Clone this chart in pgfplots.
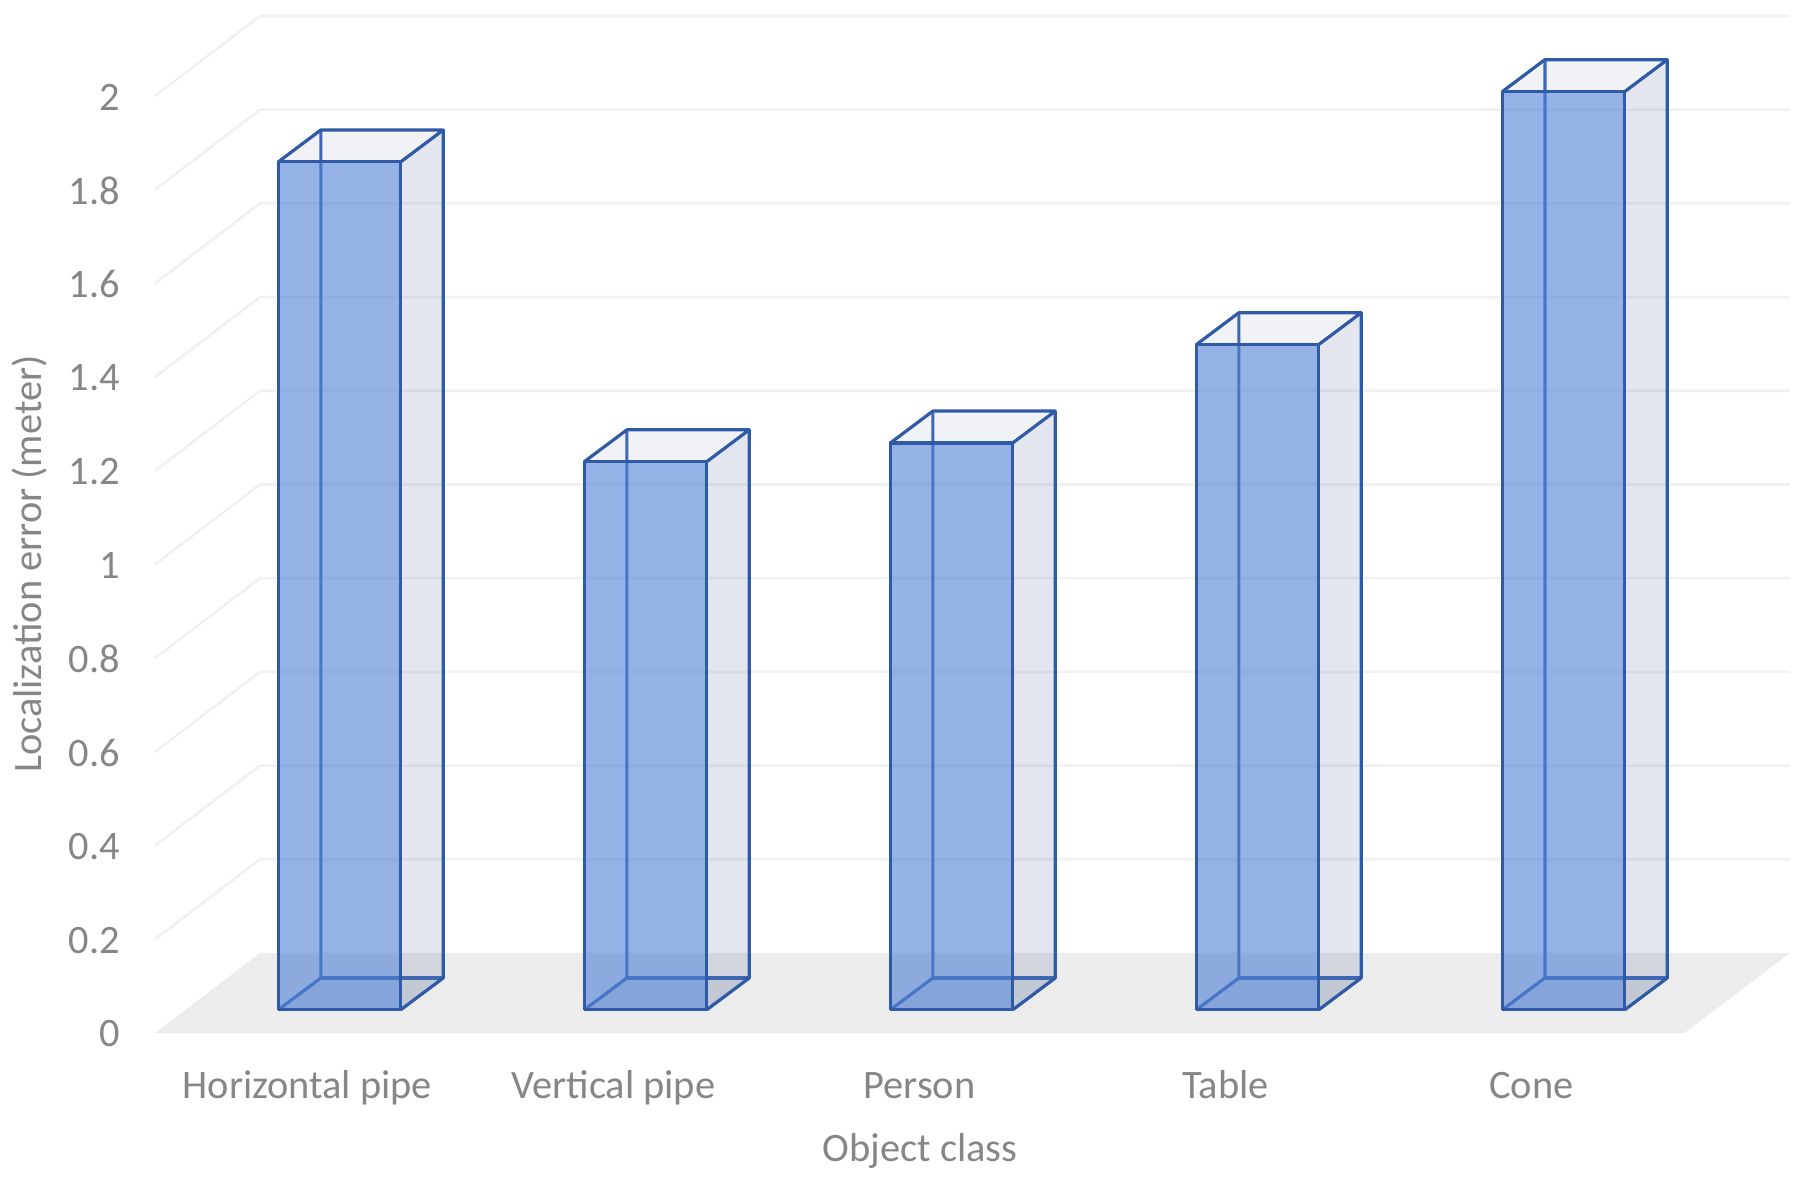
\documentclass[border=0pt]{standalone}
\usepackage{fontspec}
\setmainfont{Carlito}
\usepackage{pgfplots}
\pgfplotsset{compat=1.18}
\definecolor{txt}{HTML}{868686}
\definecolor{gridc}{HTML}{F1F1F1}
\definecolor{floorc}{HTML}{ECECEC}
\definecolor{edgef}{HTML}{2F5AA6}
\definecolor{edgeb}{HTML}{3E6AB8}
\definecolor{frontc}{HTML}{4D7FD5}
\definecolor{sidec}{HTML}{44588F}
% one bar: position (tick index)
\newcommand{\threedbar}[2]{%
  \pgfmathsetmacro{\xl}{#1-0.095}\pgfmathsetmacro{\xr}{#1+0.305}%
  \pgfmathsetmacro{\xL}{\xl+0.139}\pgfmathsetmacro{\xR}{\xr+0.139}%
  \pgfmathsetmacro{\yb}{0.0495}\pgfmathsetmacro{\yt}{0.0495+#2}%
  \pgfmathsetmacro{\yB}{\yb+0.068}\pgfmathsetmacro{\yT}{\yt+0.068}%
  % bottom and back
  \addplot[draw=none,fill=sidec,fill opacity=0.10,forget plot] coordinates {(\xl,\yb)(\xr,\yb)(\xR,\yB)(\xL,\yB)(\xl,\yb)};
  % back edges
  \addplot[edgeb,line width=1.6pt,forget plot] coordinates {(\xl,\yb)(\xL,\yB)(\xL,\yT)};
  \addplot[edgeb,line width=1.6pt,forget plot] coordinates {(\xL,\yB)(\xR,\yB)};
  % right side
  \addplot[draw=none,fill=sidec,fill opacity=0.15,forget plot] coordinates {(\xr,\yb)(\xR,\yB)(\xR,\yT)(\xr,\yt)(\xr,\yb)};
  % top
  \addplot[draw=none,fill=sidec,fill opacity=0.08,forget plot] coordinates {(\xl,\yt)(\xr,\yt)(\xR,\yT)(\xL,\yT)(\xl,\yt)};
  % front
  \addplot[draw=none,fill=frontc,fill opacity=0.6,forget plot] coordinates {(\xl,\yb)(\xr,\yb)(\xr,\yt)(\xl,\yt)(\xl,\yb)};
  % outer edges
  \addplot[edgef,line width=1.6pt,line join=round,forget plot] coordinates {(\xl,\yb)(\xr,\yb)(\xr,\yt)(\xl,\yt)(\xl,\yb)};
  \addplot[edgef,line width=1.6pt,line join=round,forget plot] coordinates {(\xl,\yt)(\xL,\yT)(\xR,\yT)(\xr,\yt)};
  \addplot[edgef,line width=1.6pt,line join=round,forget plot] coordinates {(\xR,\yT)(\xR,\yB)(\xr,\yb)};
}
\newcommand{\wallline}[1]{%
  \pgfmathsetmacro{\yb}{#1+0.1708}%
  \addplot[gridc,line width=1.3pt,forget plot] coordinates {(-0.498,#1)(-0.155,\yb)(4.845,\yb)};
}
\begin{document}
\begin{tikzpicture}
\path[use as bounding box] (-77.5pt,-72pt) rectangle (825.5pt,516.5pt);
\begin{axis}[
  at={(0,0)},anchor=south west,
  scale only axis,width=817.5pt,height=508.5pt,
  xmin=-0.498,xmax=4.845,ymin=0,ymax=2.1708,
  clip=false,
  axis line style={draw=none},
  major tick length=0pt,
  tick style={draw=none},
  xtick={0,1,2,3,4},
  xticklabels={Horizontal pipe,Vertical pipe,Person,Table,Cone},
  ytick={0,0.2,0.4,0.6,0.8,1,1.2,1.4,1.6,1.8,2},
  /pgf/number format/assume math mode=true,
  tick label style={font=\fontsize{20.2}{22}\selectfont,text=txt},
  yticklabel style={anchor=east,xshift=-14pt,yshift=-0.5pt},
  xticklabel style={anchor=base,yshift=-33pt},
  xlabel={Object class},
  ylabel={Localization error (meter)},
  label style={font=\fontsize{20.2}{22}\selectfont,text=txt},
  xlabel style={at={(rel axis cs:0.468,-0.1155)},anchor=center},
  ylabel style={at={(rel axis cs:-0.0765,0.461)},anchor=center,rotate=0},
]
\addplot[draw=none,fill=floorc,forget plot] coordinates {(-0.498,0)(4.5,0)(4.845,0.1708)(-0.155,0.1708)(-0.498,0)};
\wallline{0.2}\wallline{0.4}\wallline{0.6}\wallline{0.8}\wallline{1.0}
\wallline{1.2}\wallline{1.4}\wallline{1.6}\wallline{1.8}\wallline{2.0}
\threedbar{0}{1.81}
\threedbar{1}{1.17}
\threedbar{2}{1.21}
\threedbar{3}{1.42}
\threedbar{4}{1.96}
\end{axis}
\end{tikzpicture}
\end{document}
